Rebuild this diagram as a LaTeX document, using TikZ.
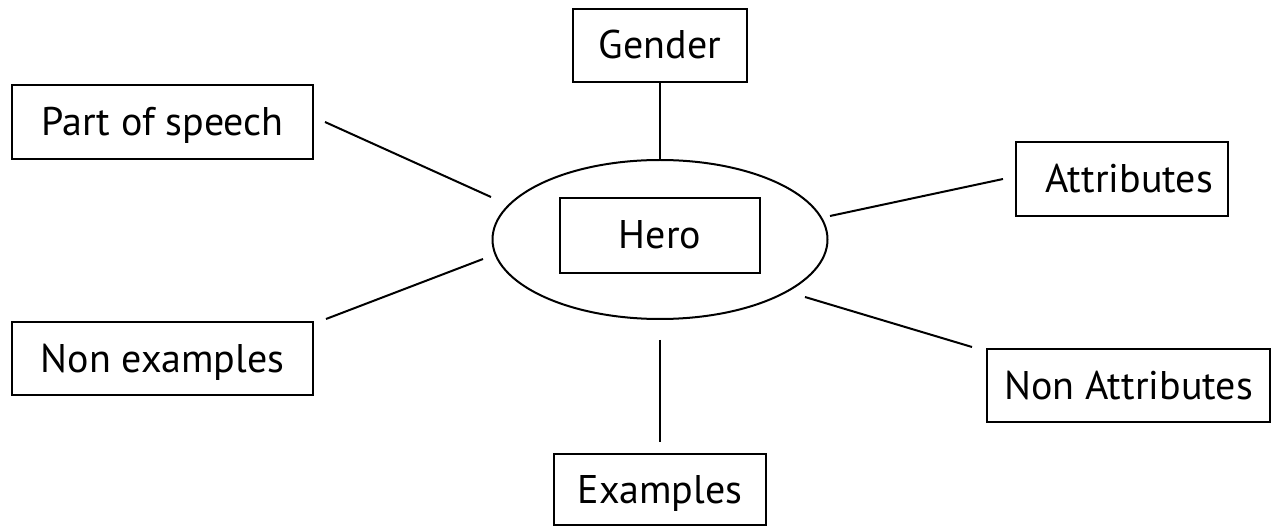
\documentclass[tikz,border=0pt]{standalone}
\usepackage{fontspec}
\setmainfont{PT Sans}
\usetikzlibrary{shapes.geometric}

\tikzset{
    conceptbox/.style={draw, line width=2pt, inner sep=0pt, text height=28pt, text depth=1pt, font=\fontsize{40}{48}\selectfont},
    hubellipse/.style={draw, ellipse, line width=2pt, inner sep=0pt, minimum width=335pt, minimum height=159pt},
    spoke/.style={line width=2pt}
}

\begin{document}
\begin{tikzpicture}[x=1pt, y=-1pt]
    \useasboundingbox (0,0) rectangle (1271,526);

    % the ellipse in the middle and the box inside it
    \node[hubellipse] (hub) at (660,239.5) {};
    \node[conceptbox, minimum width=200pt, minimum height=75pt] (hero) at (660,235.5) {Hero};

    % the boxes round the ellipse
    \node[conceptbox, minimum width=174pt, minimum height=73pt] (gender) at (660,45.5) {Gender};
    \node[conceptbox, minimum width=301pt, minimum height=74pt] (ps) at (162.5,122) {Part of speech};
    \node[conceptbox, minimum width=212pt, minimum height=74pt] (attr) at (1122,179) {\hspace*{14pt}Attributes};
    \node[conceptbox, minimum width=301pt, minimum height=73pt] (nonex) at (162.5,358.5) {Non examples};
    \node[conceptbox, minimum width=283pt, minimum height=73pt] (nonattr) at (1128.5,385.5) {Non Attributes};
    \node[conceptbox, minimum width=212pt, minimum height=71pt] (ex) at (660,489.5) {Examples};

    % the free ends of the slanted lines
    \coordinate (ps-out) at ([xshift=11pt]ps.east);
    \coordinate (ps-in) at ([shift={(-169,-42.5)}]hub.center);
    \coordinate (attr-out) at ([xshift=-12pt]attr.west);
    \coordinate (attr-in) at ([shift={(170,-23.5)}]hub.center);
    \coordinate (nonex-out) at ([xshift=12pt,yshift=2pt]nonex.north east);
    \coordinate (nonex-in) at ([shift={(-177,19.5)}]hub.center);
    \coordinate (nonattr-out) at ([xshift=-14pt,yshift=1pt]nonattr.north west);
    \coordinate (nonattr-in) at ([shift={(145,57.5)}]hub.center);

    % the lines
    \draw[spoke] (gender) -- (hub);
    \draw[spoke, shorten <=20pt, shorten >=11pt] (hub) -- (ex);
    \draw[spoke] (ps-out) -- (ps-in);
    \draw[spoke] (attr-in) -- (attr-out);
    \draw[spoke] (nonex-out) -- (nonex-in);
    \draw[spoke] (nonattr-in) -- (nonattr-out);
\end{tikzpicture}
\end{document}
